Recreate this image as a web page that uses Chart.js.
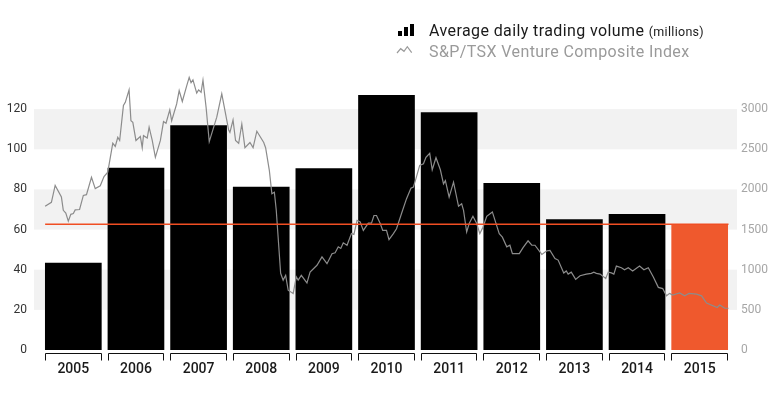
<!DOCTYPE html>
<html>
<head>
<meta charset="utf-8">
<script src="https://cdn.jsdelivr.net/npm/chart.js@4/dist/chart.umd.min.js"></script>
<style>
  body { margin: 0; background: #fff; }
  #wrap { position: relative; width: 778px; height: 395px; font-family: Roboto, "DejaVu Sans", sans-serif; }
  #legend .row { position: absolute; left: 429px; font-size: 16px; line-height: 20px; letter-spacing: 0.4px; white-space: nowrap; }
  #legend .vol { top: 21px; color: #1a1a1a; }
  #legend .vol small { font-size: 12.5px; letter-spacing: 0.3px; }
  #legend .idx { top: 42px; color: #9a9a9a; }
  #legend .bars { position: absolute; left: 398px; top: 24px; width: 16px; height: 12px; }
  #legend .bars i { position: absolute; bottom: 0; width: 4px; background: #000; }
  #legend svg { position: absolute; left: 396px; top: 45px; }
</style>
</head>
<body>
<div id="wrap">
  <canvas id="chart" width="778" height="395"></canvas>
  <div id="legend">
    <div class="bars"><i style="left:0;height:5px"></i><i style="left:6px;height:9px"></i><i style="left:12px;height:12px"></i></div>
    <div class="row vol">Average daily trading volume <small>(millions)</small></div>
    <svg width="18" height="10"><polyline points="1,8 4.7,3.7 8,6.3 11.3,1.7 15.7,7.7" fill="none" stroke="#9a9a9a" stroke-width="1.2"/></svg>
    <div class="row idx">S&amp;P/TSX Venture Composite Index</div>
  </div>
</div>
<script>
const years = ['2005', '2006', '2007', '2008', '2009', '2010', '2011', '2012', '2013', '2014', '2015']
const volume = [43.5, 90.8, 112, 81.3, 90.6, 127, 118.5, 83.2, 65.2, 67.7, 62.6]
const volumeTicks = [0, 20, 40, 60, 80, 100, 120]
const indexTicks = [0, 500, 1000, 1500, 2000, 2500, 3000]
const shadedBands = [[20, 40], [60, 80], [100, 120]]

// S&P/TSX Venture Composite, [fractional year, index level]
const indexPoints = [
  [2005.05, 1790], [2005.15, 1840], [2005.21, 2050], [2005.31, 1905], [2005.34, 1740], [2005.38, 1705],
  [2005.42, 1605], [2005.46, 1690], [2005.50, 1700], [2005.53, 1745], [2005.60, 1750], [2005.66, 1925],
  [2005.71, 1935], [2005.79, 2150], [2005.85, 2010], [2005.93, 2045], [2005.99, 2160], [2006.05, 2215],
  [2006.13, 2575], [2006.17, 2535], [2006.21, 2650], [2006.24, 2610], [2006.30, 3045], [2006.33, 3085],
  [2006.39, 3240], [2006.42, 2855], [2006.45, 2835], [2006.50, 2610], [2006.57, 2660], [2006.60, 2520],
  [2006.62, 2670], [2006.68, 2640], [2006.71, 2775], [2006.76, 2610], [2006.81, 2400], [2006.89, 2610],
  [2006.94, 2845], [2006.98, 2825], [2007.04, 2990], [2007.07, 2855], [2007.15, 3065], [2007.19, 3230],
  [2007.24, 3095], [2007.31, 3290], [2007.35, 3395], [2007.38, 3330], [2007.41, 3365], [2007.47, 3200],
  [2007.50, 3240], [2007.54, 3210], [2007.57, 3360], [2007.62, 3020], [2007.67, 2595], [2007.79, 2900],
  [2007.87, 3190], [2007.98, 2740], [2008.00, 2710], [2008.05, 2865], [2008.09, 2610], [2008.14, 2575],
  [2008.19, 2815], [2008.24, 2520], [2008.32, 2585], [2008.37, 2520], [2008.43, 2725], [2008.54, 2585],
  [2008.57, 2520], [2008.63, 2235], [2008.67, 1945], [2008.71, 1965], [2008.74, 1740], [2008.81, 955],
  [2008.85, 870], [2008.89, 930], [2008.93, 745], [2009.01, 705], [2009.06, 910], [2009.09, 870],
  [2009.14, 930], [2009.23, 835], [2009.28, 970], [2009.39, 1055], [2009.47, 1160], [2009.55, 1075],
  [2009.63, 1200], [2009.68, 1210], [2009.73, 1285], [2009.77, 1265], [2009.81, 1335], [2009.87, 1305],
  [2009.94, 1450], [2009.98, 1440], [2010.03, 1615], [2010.08, 1595], [2010.13, 1490], [2010.21, 1580],
  [2010.26, 1580], [2010.30, 1675], [2010.34, 1675], [2010.40, 1575], [2010.44, 1490], [2010.50, 1490],
  [2010.54, 1375], [2010.61, 1450], [2010.66, 1510], [2010.74, 1700], [2010.82, 1885], [2010.89, 2015],
  [2010.93, 2030], [2010.97, 2135], [2011.03, 2300], [2011.09, 2320], [2011.13, 2400], [2011.19, 2450],
  [2011.23, 2245], [2011.29, 2395], [2011.36, 2245], [2011.41, 2070], [2011.44, 2110], [2011.50, 1905],
  [2011.57, 2090], [2011.65, 1790], [2011.70, 1820], [2011.73, 1740], [2011.78, 1470], [2011.82, 1575],
  [2011.88, 1665], [2011.94, 1575], [2011.99, 1450], [2012.04, 1530], [2012.10, 1665], [2012.19, 1720],
  [2012.30, 1450], [2012.35, 1405], [2012.42, 1285], [2012.47, 1305], [2012.51, 1200], [2012.62, 1200],
  [2012.68, 1275], [2012.76, 1360], [2012.82, 1305], [2012.87, 1305], [2012.98, 1190], [2013.06, 1235],
  [2013.11, 1240], [2013.19, 1140], [2013.24, 1120], [2013.33, 960], [2013.37, 985], [2013.40, 945],
  [2013.45, 970], [2013.52, 880], [2013.59, 925], [2013.69, 945], [2013.77, 955], [2013.81, 970],
  [2013.85, 955], [2013.91, 945], [2014.00, 890], [2014.04, 970], [2014.09, 960], [2014.13, 945],
  [2014.17, 1045], [2014.25, 1025], [2014.30, 1000], [2014.36, 1025], [2014.43, 985], [2014.54, 1045],
  [2014.61, 1000], [2014.68, 1025], [2014.76, 910], [2014.84, 780], [2014.91, 765], [2014.97, 675],
  [2015.02, 705], [2015.07, 685], [2015.18, 710], [2015.26, 675], [2015.33, 705], [2015.45, 695],
  [2015.53, 675], [2015.61, 585], [2015.78, 530], [2015.82, 560], [2015.90, 520], [2015.96, 520]
]

const orange = '#ef592d'
const lastVolume = volume[volume.length - 1]
const firstYear = indexPoints[0][0]
const lastYear = indexPoints[indexPoints.length - 1][0]

// light grey bands behind the bars
const bandPlugin = {
  id: 'bands',
  beforeDatasetsDraw(chart) {
    const { ctx, chartArea } = chart
    const y = chart.scales.y
    ctx.save()
    ctx.fillStyle = '#f2f2f2'
    shadedBands.forEach(b => {
      const top = y.getPixelForValue(b[1])
      const bottom = y.getPixelForValue(b[0])
      ctx.fillRect(chartArea.left - 8, top, chartArea.right - chartArea.left + 14, bottom - top)
    })
    ctx.restore()
  }
}

// bracket under each bar
const bracketPlugin = {
  id: 'brackets',
  afterDraw(chart) {
    const { ctx, chartArea } = chart
    const meta = chart.getDatasetMeta(0)
    ctx.save()
    ctx.strokeStyle = '#111'
    ctx.lineWidth = 1
    meta.data.forEach(bar => {
      const l = Math.round(bar.x - bar.width / 2) + 0.5
      const r = Math.round(bar.x + bar.width / 2) - 0.5
      const t = chartArea.bottom + 3.5
      ctx.beginPath()
      ctx.moveTo(l, t + 7)
      ctx.lineTo(l, t)
      ctx.lineTo(r, t)
      ctx.lineTo(r, t + 7)
      ctx.stroke()
    })
    ctx.restore()
  }
}

const ctx = document.getElementById('chart')
new Chart(ctx, {
  type: 'bar',
  data: {
    labels: years,
    datasets: [
      {
        label: 'Average daily trading volume',
        data: volume,
        backgroundColor: volume.map((v, i) => i === volume.length - 1 ? orange : '#000'),
        barPercentage: 1,
        categoryPercentage: 0.905,
        grouped: false,
        xAxisID: 'x',
        yAxisID: 'y',
        order: 3
      },
      {
        type: 'line',
        label: 'S&P/TSX Venture Composite Index',
        data: indexPoints.map(p => ({ x: p[0], y: p[1] })),
        borderColor: '#8c8c8c',
        borderWidth: 1.2,
        pointRadius: 0,
        tension: 0,
        xAxisID: 'xt',
        yAxisID: 'y1',
        order: 2
      },
      {
        type: 'line',
        label: '2015 level',
        data: [{ x: firstYear, y: lastVolume }, { x: lastYear, y: lastVolume }],
        borderColor: '#f04e23',
        borderWidth: 1.5,
        pointRadius: 0,
        xAxisID: 'xt',
        yAxisID: 'y',
        order: 1
      }
    ]
  },
  options: {
    responsive: false,
    animation: false,
    layout: { padding: { top: 69, left: 0, right: 0, bottom: 0 } },
    plugins: { legend: { display: false }, tooltip: { enabled: false } },
    scales: {
      x: {
        grid: { display: false, drawTicks: false },
        border: { display: false },
        ticks: { color: '#1a1a1a', padding: 11, font: { family: 'Roboto', size: 14, weight: '500' } },
        afterFit: s => { s.height = 45 }
      },
      xt: {
        type: 'linear',
        display: false,
        offset: false,
        grid: { offset: false },
        min: 2005,
        max: 2016
      },
      y: {
        position: 'left',
        min: 0,
        max: 140,
        grid: { display: false, drawTicks: false },
        border: { display: false },
        afterBuildTicks: s => { s.ticks = volumeTicks.map(v => ({ value: v })) },
        ticks: { color: '#333', padding: 15, font: { family: 'Roboto', size: 12 } },
        afterFit: s => { s.width = 42 }
      },
      y1: {
        position: 'right',
        min: 0,
        max: 3500,
        grid: { display: false, drawTicks: false },
        border: { display: false },
        afterBuildTicks: s => { s.ticks = indexTicks.map(v => ({ value: v })) },
        ticks: { color: '#a6a6a6', padding: 10, font: { family: 'Roboto', size: 12 }, callback: v => String(v) },
        afterFit: s => { s.width = 47 }
      }
    }
  },
  plugins: [bandPlugin, bracketPlugin]
})
</script>
</body>
</html>
